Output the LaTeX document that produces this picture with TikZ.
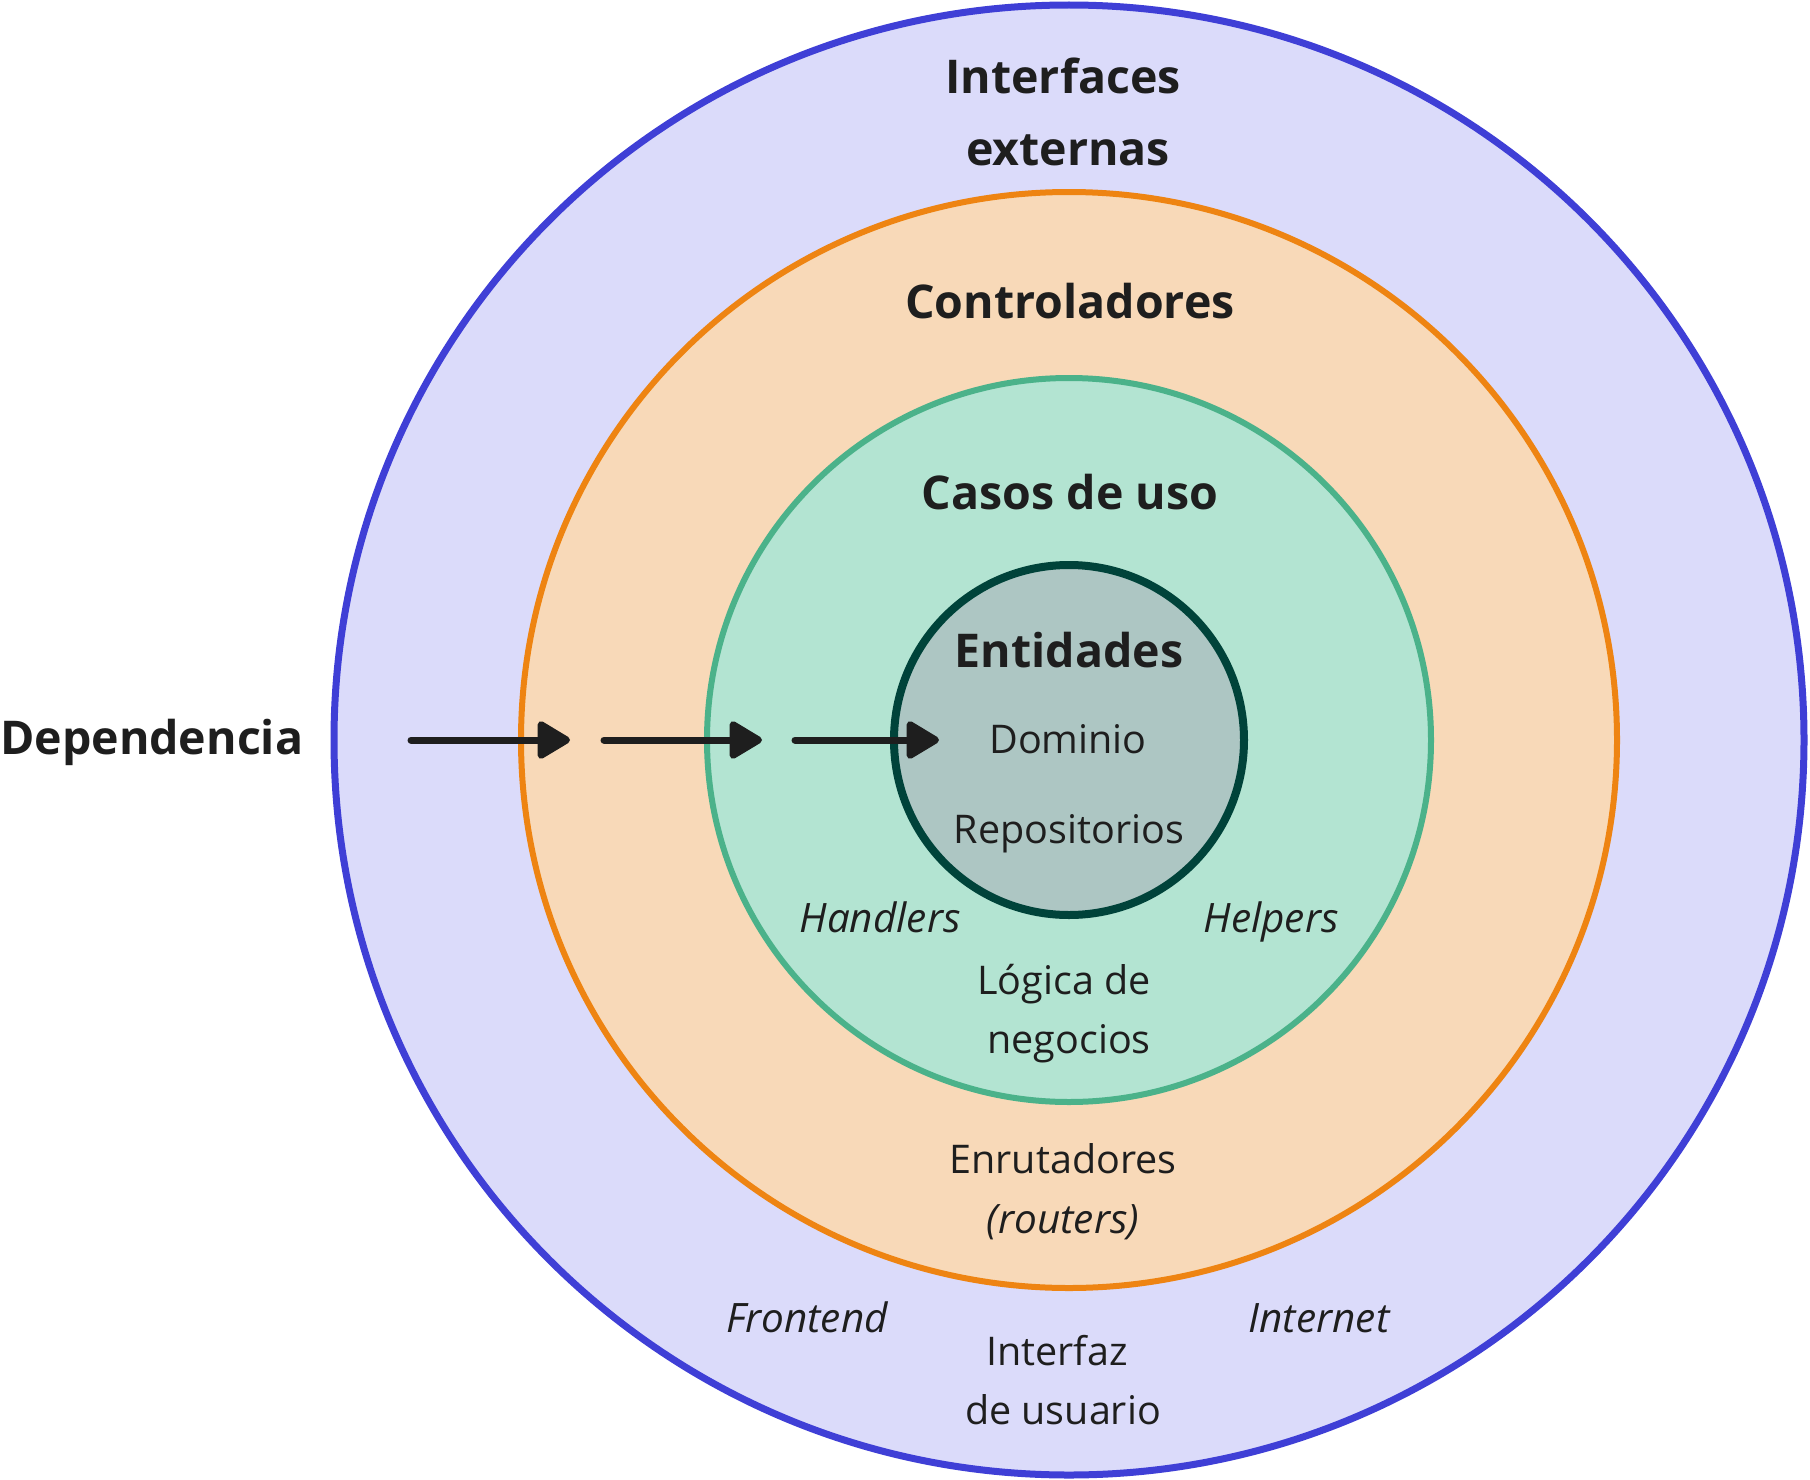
\documentclass[tikz,border=0pt]{standalone}
\usepackage{fontspec}
\setmainfont{Open Sans}
\usetikzlibrary{arrows.meta}
\definecolor{blueS}{HTML}{3F3FD6}
\definecolor{blueF}{HTML}{DBDBFA}
\definecolor{orangeS}{HTML}{EE8412}
\definecolor{orangeF}{HTML}{F8D9B8}
\definecolor{greenS}{HTML}{4BB28A}
\definecolor{greenF}{HTML}{B3E4D2}
\definecolor{darkS}{HTML}{00433A}
\definecolor{darkF}{HTML}{ADC6C3}
\definecolor{ink}{HTML}{1E1E1E}
\begin{document}
\begin{tikzpicture}[x=1pt,y=-1pt,
  ring/.style={circle,inner sep=0pt,outer sep=0pt},
  lbl/.style={inner sep=0pt,anchor=base,text=ink,font=\fontsize{39.5}{47}\selectfont},
  ilbl/.style={lbl,font=\fontsize{40.5}{47}\selectfont\itshape},
  hd/.style={inner sep=0pt,anchor=base,text=ink,font=\fontsize{46.5}{56}\selectfont\bfseries},
  deparrow/.style={draw=ink,line width=7pt,line cap=round,
    -{Triangle[length=36pt,width=41pt,round]}}]
\useasboundingbox (0,0) rectangle (1810,1480);
\node[ring,draw=blueS,fill=blueF,line width=7pt,minimum size=1470pt] (outer) at (1069,740) {};
\node[ring,draw=orangeS,fill=orangeF,line width=6pt,minimum size=1096pt] (ctrl) at (1069,740) {};
\node[ring,draw=greenS,fill=greenF,line width=6pt,minimum size=724pt] (uses) at (1069,740) {};
\node[ring,draw=darkS,fill=darkF,line width=8pt,minimum size=350pt] (ent) at (1069,740) {};

\node[hd] (t1) at (1063,93) {Interfaces};
\node[hd] (t2) at (1068,165) {externas};
\node[hd] (t3) at (1070,318) {Controladores};
\node[hd] (t4) at (1070,509) {Casos de uso};
\node[hd] (t5) at (1069,667) {Entidades};
\node[lbl] (t6) at (1068,753) {Dominio};
\node[lbl] (t7) at (1069,843) {Repositorios};
\node[ilbl] (t8) at (880,932) {Handlers};
\node[ilbl] (t9) at (1271,932) {Helpers};
\node[lbl] (t10) at (1064,994) {Lógica de};
\node[lbl] (t11) at (1069,1053) {negocios};
\node[lbl] (t12) at (1063,1173) {Enrutadores};
\node[ilbl] (t13) at (1063,1233) {(routers)};
\node[ilbl] (t14) at (807,1332) {Frontend};
\node[ilbl] (t15) at (1319,1332) {Internet};
\node[lbl] (t16) at (1057,1365) {Interfaz};
\node[lbl] (t17) at (1063,1424) {de usuario};
\node[hd,anchor=base west] (dep) at (0,754) {Dependencia};

\coordinate (a1s) at (411,740);
\coordinate (a1e) at (570,740);
\coordinate (a2s) at (604,740);
\coordinate (a2e) at (762,740);
\coordinate (a3s) at (795,740);
\coordinate (a3e) at (939,740);
\draw[deparrow] (a1s) -- (a1e);
\draw[deparrow] (a2s) -- (a2e);
\draw[deparrow] (a3s) -- (a3e);
\end{tikzpicture}
\end{document}
